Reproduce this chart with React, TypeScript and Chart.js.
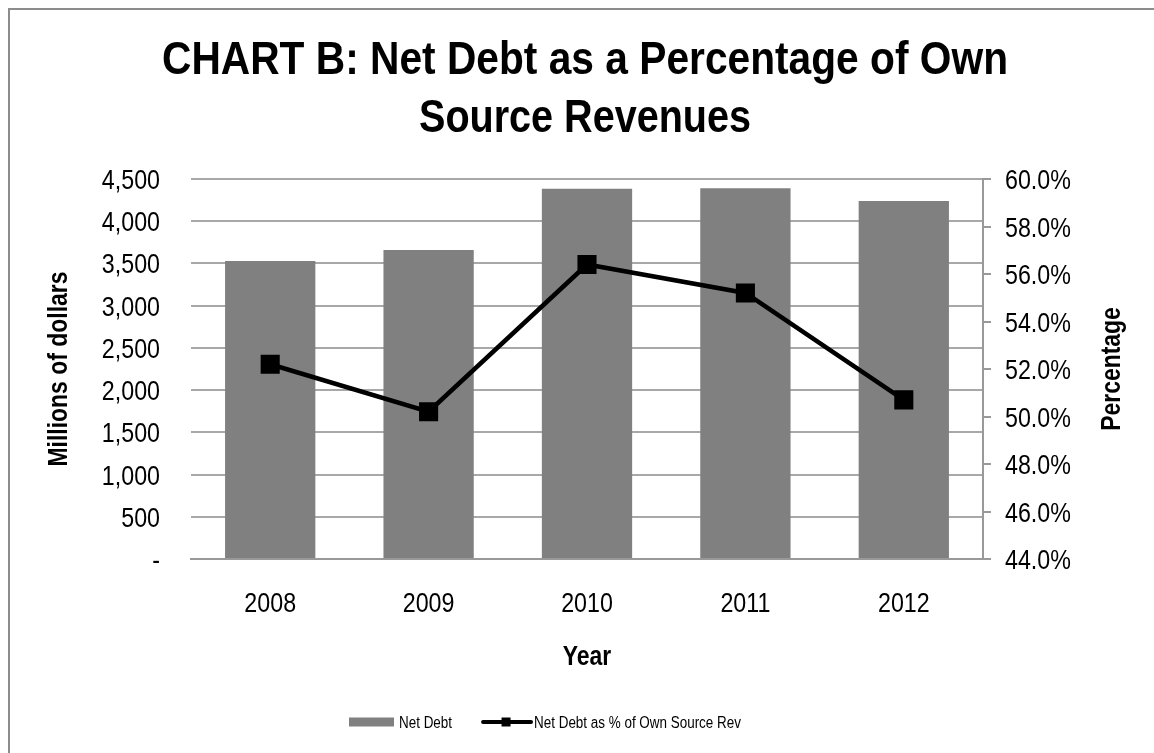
import React, { useEffect, useRef } from "react";
import { Chart, registerables } from "chart.js";

Chart.register(...registerables);

const FONT = '"Liberation Sans", Arial, sans-serif';

const titleLines = ["CHART B: Net Debt as a Percentage of Own", "Source Revenues"];
const categories = ["2008", "2009", "2010", "2011", "2012"];
const netDebt = [3530, 3660, 4385, 4390, 4240];
const pctOwnSource = [52.2, 50.2, 56.4, 55.2, 50.7];
const debtTicks = [0, 500, 1000, 1500, 2000, 2500, 3000, 3500, 4000, 4500];
const debtTickLabels = ["-", "500", "1,000", "1,500", "2,000", "2,500", "3,000", "3,500", "4,000", "4,500"];
const pctTicks = [44, 46, 48, 50, 52, 54, 56, 58, 60];
const pctTickLabels = ["44.0%", "46.0%", "48.0%", "50.0%", "52.0%", "54.0%", "56.0%", "58.0%", "60.0%"];
const seriesNames = ["Net Debt", "Net Debt as % of Own Source Rev"];
const xTitle = "Year";
const leftTitle = "Millions of dollars";
const rightTitle = "Percentage";

const BAR_COLOR = "#808080";
const GRID_COLOR = "#a8a8a8";
const AXIS_COLOR = "#999999";

type TextOpts = { size: number; bold?: boolean; align?: CanvasTextAlign; sx?: number; rotate?: number };

// draws text whose cap-height is vertically centred on (x, y); sx condenses horizontally
function drawText(ctx: CanvasRenderingContext2D, text: string, x: number, y: number, o: TextOpts) {
  ctx.save();
  ctx.translate(x, y);
  if (o.rotate) ctx.rotate(o.rotate);
  ctx.scale(o.sx ?? 1, 1);
  ctx.font = `${o.bold ? "bold " : ""}${o.size}px ${FONT}`;
  ctx.fillStyle = "#000";
  ctx.textAlign = o.align ?? "center";
  ctx.textBaseline = "alphabetic";
  ctx.fillText(text, 0, (o.size * 0.716) / 2);
  ctx.restore();
}

const textPlugin = {
  id: "textDecor",
  afterDraw(chart: any) {
    const ctx: CanvasRenderingContext2D = chart.ctx;
    const area = chart.chartArea;
    const { x, y, y1 } = chart.scales;
    const midX = (area.left + area.right) / 2;
    const midY = (area.top + area.bottom) / 2;

    // title
    drawText(ctx, titleLines[0], midX - 2, 49.5, { size: 46, bold: true, sx: 0.885 });
    drawText(ctx, titleLines[1], midX - 2, 107.5, { size: 46, bold: true, sx: 0.86 });

    // left ticks
    debtTicks.forEach((v, i) => {
      drawText(ctx, debtTickLabels[i], area.left - 31, y.getPixelForValue(v), { size: 28, sx: 0.83, align: "right" });
    });
    // right ticks
    pctTicks.forEach((v, i) => {
      drawText(ctx, pctTickLabels[i], area.right + 22, y1.getPixelForValue(v), { size: 28, sx: 0.83, align: "left" });
    });
    // category labels
    categories.forEach((c, i) => {
      drawText(ctx, c, x.getPixelForValue(i), area.bottom + 43, { size: 28, sx: 0.83 });
    });

    // axis titles
    drawText(ctx, xTitle, midX, area.bottom + 96, { size: 27, bold: true, sx: 0.85 });
    drawText(ctx, leftTitle, 49.5, midY, { size: 27, bold: true, sx: 0.85, rotate: -Math.PI / 2 });
    drawText(ctx, rightTitle, area.right + 127, midY, { size: 27, bold: true, sx: 0.85, rotate: -Math.PI / 2 });

    // legend
    ctx.save();
    const ly = 714;
    let lx = area.left + 158;
    const lsx = 0.84;
    ctx.font = `16px ${FONT}`;
    ctx.fillStyle = BAR_COLOR;
    ctx.fillRect(lx, ly - 4.5, 45, 9);
    lx += 50;
    drawText(ctx, seriesNames[0], lx, ly, { size: 16, sx: lsx, align: "left" });
    lx += ctx.measureText(seriesNames[0]).width * lsx + 31;
    ctx.strokeStyle = "#000";
    ctx.fillStyle = "#000";
    ctx.lineWidth = 4;
    ctx.lineCap = "round";
    ctx.beginPath();
    ctx.moveTo(lx, ly);
    ctx.lineTo(lx + 48, ly);
    ctx.stroke();
    ctx.fillRect(lx + 23 - 4.5, ly - 4.5, 9, 9);
    lx += 51;
    drawText(ctx, seriesNames[1], lx, ly, { size: 16, sx: lsx, align: "left" });
    ctx.restore();
  },
};

export default function App() {
  const ref = useRef<HTMLCanvasElement | null>(null);

  useEffect(() => {
    if (!ref.current) return;
    const chart = new Chart(ref.current, {
      data: {
        labels: categories,
        datasets: [
          {
            type: "line",
            label: seriesNames[1],
            data: pctOwnSource,
            yAxisID: "y1",
            borderColor: "#000",
            borderWidth: 4.5,
            pointStyle: "rect",
            pointRadius: 13.5,
            pointBackgroundColor: "#000",
            pointBorderColor: "#000",
            pointBorderWidth: 0,
            order: 0,
          } as any,
          {
            type: "bar",
            label: seriesNames[0],
            data: netDebt,
            yAxisID: "y",
            backgroundColor: BAR_COLOR,
            borderWidth: 0,
            categoryPercentage: 1,
            barPercentage: 0.57,
            order: 1,
          } as any,
        ],
      },
      options: {
        responsive: false,
        animation: false,
        devicePixelRatio: 1,
        layout: { padding: { top: 171, left: 0, right: 0, bottom: 78 } },
        plugins: {
          legend: { display: false },
          tooltip: { enabled: false },
          title: { display: false },
        },
        scales: {
          x: {
            type: "category",
            offset: true,
            grid: { display: false },
            border: { display: true, color: AXIS_COLOR, width: 2 },
            ticks: { display: false },
            afterFit: (s: any) => {
              s.height = 116;
            },
          },
          y: {
            position: "left",
            min: 0,
            max: 4500,
            afterBuildTicks: (s: any) => {
              s.ticks = debtTicks.map((v) => ({ value: v }));
            },
            grid: { color: GRID_COLOR, lineWidth: 2, drawTicks: false },
            border: { display: false },
            ticks: { display: false },
            afterFit: (s: any) => {
              s.width = 183;
            },
          },
          y1: {
            position: "right",
            min: 44,
            max: 60,
            afterBuildTicks: (s: any) => {
              s.ticks = pctTicks.map((v) => ({ value: v }));
            },
            grid: {
              drawOnChartArea: false,
              drawTicks: true,
              tickLength: 8,
              color: AXIS_COLOR,
              lineWidth: 2,
            },
            border: { display: true, color: AXIS_COLOR, width: 2 },
            ticks: { display: false },
            afterFit: (s: any) => {
              s.width = 171;
            },
          },
        },
      } as any,
      plugins: [textPlugin],
    });
    return () => chart.destroy();
  }, []);

  return (
    <div
      style={{
        position: "fixed",
        left: 8,
        top: 8,
        width: 1146,
        height: 745,
        background: "#fff",
      }}
    >
      <canvas ref={ref} width={1146} height={745} style={{ position: "absolute", left: 0, top: 0 }} />
      <div
        style={{
          position: "absolute",
          left: 0,
          top: 0,
          right: 0,
          bottom: 0,
          borderLeft: "2px solid #8c8c8c",
          borderTop: "2px solid #8c8c8c",
          pointerEvents: "none",
        }}
      />
    </div>
  );
}
